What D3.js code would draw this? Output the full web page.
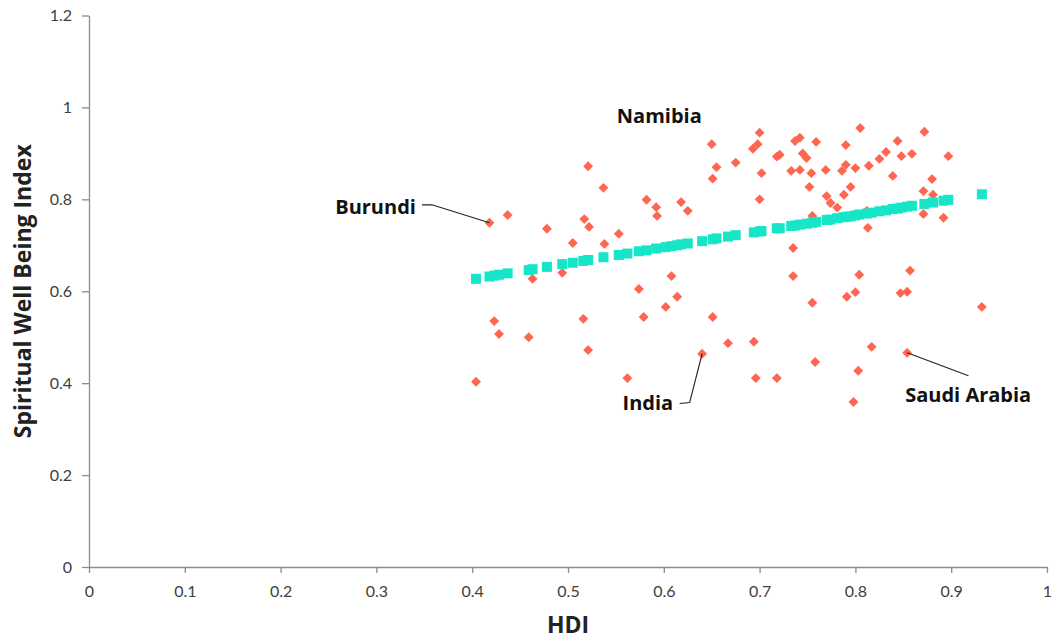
<!DOCTYPE html>
<html>
<head>
<meta charset="utf-8">
<script src="https://cdn.jsdelivr.net/npm/d3@7"></script>
<style>
  body { margin: 0; background: #fff; }
  svg { display: block; }
  text { font-family: "Open Sans", Lato, sans-serif; }
</style>
</head>
<body>
<div id="chart"></div>
<script>
// countries: [HDI, Spiritual Well Being Index]
const countries = [
  [0.404, 0.403], [0.418, 0.749], [0.437, 0.766], [0.423, 0.535], [0.428, 0.507],
  [0.459, 0.500], [0.463, 0.627], [0.478, 0.736], [0.494, 0.640], [0.505, 0.705],
  [0.516, 0.540], [0.517, 0.757], [0.522, 0.740], [0.521, 0.472], [0.521, 0.872],
  [0.537, 0.825], [0.538, 0.703], [0.553, 0.725], [0.562, 0.411], [0.574, 0.605],
  [0.579, 0.544], [0.582, 0.799], [0.592, 0.783], [0.593, 0.764], [0.602, 0.566],
  [0.608, 0.633], [0.614, 0.588], [0.618, 0.794], [0.625, 0.775], [0.640, 0.464],
  [0.651, 0.544], [0.651, 0.845], [0.650, 0.920], [0.655, 0.870], [0.667, 0.487],
  [0.675, 0.880], [0.694, 0.490], [0.696, 0.411], [0.700, 0.800], [0.700, 0.945],
  [0.698, 0.920], [0.693, 0.910], [0.702, 0.857], [0.718, 0.411], [0.718, 0.893],
  [0.721, 0.897], [0.733, 0.862], [0.735, 0.694], [0.735, 0.633], [0.737, 0.927],
  [0.742, 0.934], [0.742, 0.864], [0.745, 0.900], [0.749, 0.890], [0.752, 0.827],
  [0.754, 0.857], [0.755, 0.764], [0.755, 0.575], [0.758, 0.446], [0.759, 0.925],
  [0.769, 0.864], [0.770, 0.807], [0.774, 0.792], [0.781, 0.782], [0.786, 0.862],
  [0.788, 0.810], [0.790, 0.875], [0.790, 0.918], [0.791, 0.588], [0.795, 0.827],
  [0.798, 0.359], [0.800, 0.598], [0.800, 0.868], [0.803, 0.427], [0.804, 0.636],
  [0.805, 0.955], [0.812, 0.775], [0.813, 0.738], [0.814, 0.873], [0.817, 0.479],
  [0.825, 0.888], [0.832, 0.903], [0.839, 0.851], [0.844, 0.927], [0.847, 0.596],
  [0.848, 0.894], [0.854, 0.466], [0.854, 0.599], [0.857, 0.645], [0.859, 0.899],
  [0.871, 0.768], [0.871, 0.818], [0.872, 0.947], [0.880, 0.844], [0.881, 0.810],
  [0.892, 0.760], [0.897, 0.894], [0.932, 0.566]
];

// fitted values: [HDI, predicted index]
const fitted = [
  [0.404, 0.627], [0.418, 0.632], [0.423, 0.634], [0.428, 0.636], [0.437, 0.639],
  [0.459, 0.646], [0.463, 0.648], [0.478, 0.653], [0.494, 0.659], [0.505, 0.662],
  [0.516, 0.666], [0.521, 0.668], [0.537, 0.674], [0.553, 0.679], [0.562, 0.682],
  [0.574, 0.687], [0.582, 0.689], [0.592, 0.693], [0.602, 0.696], [0.608, 0.698],
  [0.614, 0.700], [0.618, 0.702], [0.625, 0.704], [0.640, 0.709], [0.651, 0.713],
  [0.655, 0.715], [0.667, 0.719], [0.675, 0.722], [0.694, 0.728], [0.700, 0.730],
  [0.702, 0.731], [0.718, 0.737], [0.721, 0.737], [0.733, 0.742], [0.737, 0.743],
  [0.742, 0.745], [0.749, 0.747], [0.755, 0.749], [0.759, 0.751], [0.770, 0.755],
  [0.774, 0.756], [0.781, 0.759], [0.788, 0.761], [0.791, 0.762], [0.795, 0.763],
  [0.800, 0.765], [0.804, 0.767], [0.812, 0.769], [0.817, 0.771], [0.825, 0.774],
  [0.832, 0.776], [0.839, 0.779], [0.844, 0.780], [0.848, 0.782], [0.854, 0.784],
  [0.859, 0.786], [0.872, 0.790], [0.881, 0.793], [0.892, 0.797], [0.897, 0.799],
  [0.932, 0.811]
];

const xTicks = [0, 0.1, 0.2, 0.3, 0.4, 0.5, 0.6, 0.7, 0.8, 0.9, 1];
const yTicks = [0, 0.2, 0.4, 0.6, 0.8, 1, 1.2];

// labels: name, text position (data units), point it refers to, bend of the leader line
const labels = [
  { name: "Namibia", at: [0.551, 0.966] },
  { name: "Burundi", at: [0.257, 0.768], point: [0.418, 0.749], elbow: [0.358, 0.788] },
  { name: "India", at: [0.557, 0.342], point: [0.640, 0.464], elbow: [0.627, 0.358] },
  { name: "Saudi Arabia", at: [0.852, 0.359], point: [0.854, 0.466], elbow: [0.918, 0.416] }
];

const width = 1054, height = 642;
const margin = { top: 15.5, right: 7, bottom: 75, left: 89 };

const svg = d3.select('#chart').append('svg')
  .attr('width', width)
  .attr('height', height);

const x = d3.scaleLinear().domain([0, 1]).range([margin.left, width - margin.right]);
const y = d3.scaleLinear().domain([0, 1.2]).range([height - margin.bottom, margin.top]);

const fmt = d => d === 0 ? '0' : d3.format('~g')(d);

// x axis
const xAxis = svg.append('g')
  .attr('transform', `translate(0,${y(0)})`)
  .call(d3.axisBottom(x).tickValues(xTicks).tickFormat(fmt).tickSize(6).tickSizeOuter(0));
// y axis
const yAxis = svg.append('g')
  .attr('transform', `translate(${x(0)},0)`)
  .call(d3.axisLeft(y).tickValues(yTicks).tickFormat(fmt).tickSize(7).tickSizeOuter(0));

[xAxis, yAxis].forEach(g => {
  g.select('.domain').attr('stroke', '#8c8c8c').attr('stroke-width', 1.3);
  g.selectAll('.tick line').attr('stroke', '#8c8c8c').attr('stroke-width', 1.3);
  g.selectAll('.tick text')
    .attr('fill', '#404040')
    .style('font-family', 'Lato, sans-serif')
    .style('font-size', '16px');
});
xAxis.selectAll('.tick text').attr('dy', '1.3em');
yAxis.selectAll('.tick text').attr('x', -17);

// diamonds
const diamond = d3.symbol().type(d3.symbolDiamond2).size(62);
svg.append('g').selectAll('path')
  .data(countries)
  .enter()
  .append('path')
  .attr('d', diamond)
  .attr('transform', d => `translate(${x(d[0])},${y(d[1])})`)
  .attr('fill', '#ff6650');

// fitted squares
svg.append('g').selectAll('rect')
  .data(fitted)
  .enter()
  .append('rect')
  .attr('x', d => x(d[0]) - 5)
  .attr('y', d => y(d[1]) - 5)
  .attr('width', 10)
  .attr('height', 10)
  .attr('fill', '#16e5c8');

// leader lines
svg.append('g').selectAll('path')
  .data(labels.filter(d => d.point))
  .enter()
  .append('path')
  .attr('d', d => {
    if (d.name === 'Burundi') {
      return `M${x(d.elbow[0]) - 10},${y(d.elbow[1])}L${x(d.elbow[0])},${y(d.elbow[1])}L${x(d.point[0])},${y(d.point[1])}`;
    }
    if (d.name === 'India') {
      return `M${x(d.elbow[0]) - 10},${y(d.elbow[1]) + 1}L${x(d.elbow[0])},${y(d.elbow[1])}L${x(d.point[0])},${y(d.point[1])}`;
    }
    return `M${x(d.point[0])},${y(d.point[1])}L${x(d.elbow[0])},${y(d.elbow[1])}`;
  })
  .attr('fill', 'none')
  .attr('stroke', '#222')
  .attr('stroke-width', 1.1);

svg.append('g').selectAll('text')
  .data(labels)
  .enter()
  .append('text')
  .attr('x', d => x(d.at[0]))
  .attr('y', d => y(d.at[1]))
  .attr('font-size', 20)
  .attr('font-weight', 'bold')
  .attr('fill', '#111')
  .text(d => d.name);

// axis titles
svg.append('text')
  .attr('x', (x(0) + x(1)) / 2)
  .attr('y', 633)
  .attr('text-anchor', 'middle')
  .attr('font-size', 23)
  .attr('font-weight', 'bold')
  .attr('fill', '#222')
  .text('HDI');

svg.append('text')
  .attr('transform', `translate(31,${(y(0) + y(1.2)) / 2}) rotate(-90)`)
  .attr('text-anchor', 'middle')
  .attr('font-size', 23)
  .attr('font-weight', 'bold')
  .attr('fill', '#222')
  .text('Spiritual Well Being Index');
</script>
</body>
</html>
